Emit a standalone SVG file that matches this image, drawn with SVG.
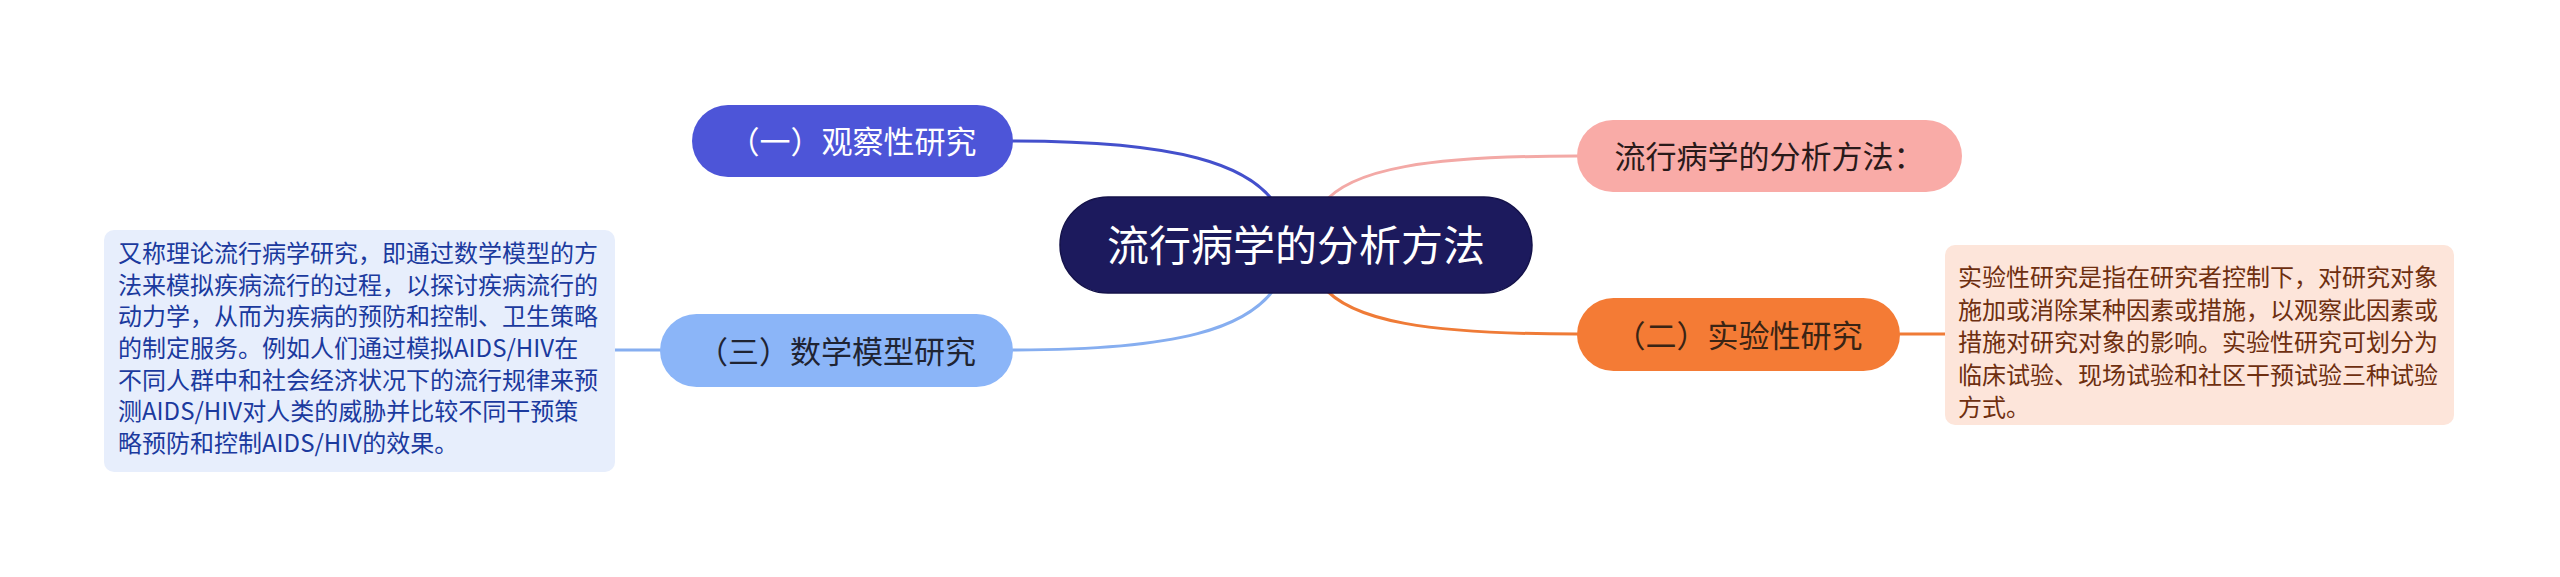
<svg xmlns="http://www.w3.org/2000/svg" width="2560" height="577" viewBox="0 0 2560 577">
<style>
text { font-family: "Noto Sans CJK SC", "Noto Sans", sans-serif; }
.lbl { font-size: 31px; text-anchor: middle; }
.note { font-size: 24px; }
.conn { fill: none; stroke-width: 3; stroke-linecap: round; }
</style>
<rect width="2560" height="577" fill="#ffffff"/>
<g id="connectors">
  <path class="conn" stroke="#4450cc" d="M1013,141 C1180,141 1250,165 1276,205"/>
  <path class="conn" stroke="#f3a9a6" d="M1322,205 C1350,168 1430,156 1577,156"/>
  <path class="conn" stroke="#ef7b37" d="M1322,285 C1350,322 1430,334 1577,334"/>
  <path class="conn" stroke="#86aef0" d="M1277,285 C1250,328 1180,350 1013,350"/>
  <path class="conn" stroke="#86aef0" d="M660,350 L615,350"/>
  <path class="conn" stroke="#ef7b37" d="M1900,334 L1945,334"/>
</g>
<g id="central">
  <rect x="1060" y="197" width="472" height="96" rx="48" fill="#1c1a5d" stroke="#14124a" stroke-width="1.5"/>
  <text x="1296" y="261" font-size="42" text-anchor="middle" fill="#ffffff">流行病学的分析方法</text>
</g>
<g id="node-observational">
  <rect x="692" y="105" width="321" height="72" rx="36" fill="#4d55d8"/>
  <text class="lbl" x="852.5" y="152.5" fill="#ffffff">（一）观察性研究</text>
</g>
<g id="node-methods">
  <rect x="1577" y="120" width="385" height="72" rx="36" fill="#f9aba7"/>
  <text class="lbl" x="1769.5" y="167.5" fill="#2a1a1a">流行病学的分析方法：</text>
</g>
<g id="node-experimental">
  <rect x="1577" y="298" width="323" height="73" rx="36.5" fill="#f47b35"/>
  <text class="lbl" x="1738.5" y="346.5" fill="#3a2414">（二）实验性研究</text>
</g>
<g id="node-math">
  <rect x="660" y="314" width="353" height="73" rx="36.5" fill="#8bb5f8"/>
  <text class="lbl" x="836.5" y="362.5" fill="#1f2433">（三）数学模型研究</text>
</g>
<g id="note-math">
  <rect x="104" y="230" width="511" height="242" rx="10" fill="#e7eefc"/>
  <text class="note" fill="#1b3a9e">
    <tspan x="118" y="262">又称理论流行病学研究，即通过数学模型的方</tspan>
    <tspan x="118" y="293.7">法来模拟疾病流行的过程，以探讨疾病流行的</tspan>
    <tspan x="118" y="325.3">动力学，从而为疾病的预防和控制、卫生策略</tspan>
    <tspan x="118" y="357">的制定服务。例如人们通过模拟AIDS/HIV在</tspan>
    <tspan x="118" y="388.7">不同人群中和社会经济状况下的流行规律来预</tspan>
    <tspan x="118" y="420.3">测AIDS/HIV对人类的威胁并比较不同干预策</tspan>
    <tspan x="118" y="452">略预防和控制AIDS/HIV的效果。</tspan>
  </text>
</g>
<g id="note-experimental">
  <rect x="1945" y="245" width="509" height="180" rx="10" fill="#fde5da"/>
  <text class="note" fill="#6e2f10">
    <tspan x="1958" y="286">实验性研究是指在研究者控制下，对研究对象</tspan>
    <tspan x="1958" y="318.5">施加或消除某种因素或措施，以观察此因素或</tspan>
    <tspan x="1958" y="351">措施对研究对象的影响。实验性研究可划分为</tspan>
    <tspan x="1958" y="383.5">临床试验、现场试验和社区干预试验三种试验</tspan>
    <tspan x="1958" y="416">方式。</tspan>
  </text>
</g>
</svg>
